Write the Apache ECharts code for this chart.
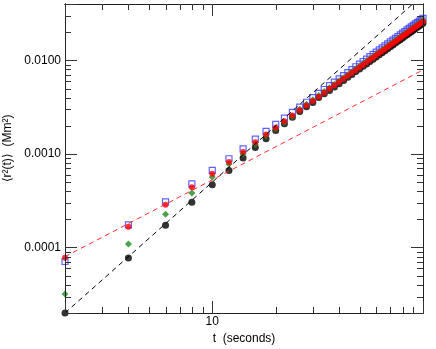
<!DOCTYPE html>
<html>
<head>
<meta charset="utf-8">
<script src="https://cdn.jsdelivr.net/npm/echarts@6/dist/echarts.min.js"></script>
<style>
  html, body { margin: 0; padding: 0; background: #fff; }
  #wrap { position: relative; width: 436px; height: 349px; }
  #main, #ticks { position: absolute; left: 0; top: 0; width: 436px; height: 349px; }
  #ticks { pointer-events: none; }
</style>
</head>
<body>
<div id="wrap">
  <div id="main"></div>
  <div id="ticks"></div>
</div>
<script>
// time (seconds)
var tValues = [2, 4, 6, 8, 10, 12, 14, 16, 18, 20, 22, 24, 26, 28, 30, 32, 34, 36, 38, 40,
  42, 44, 46, 48, 50, 52, 54, 56, 58, 60, 62, 64, 66, 68, 70, 72, 74, 76, 78, 80,
  82, 84, 86, 88, 90, 92, 94, 96, 98, 100];

// <r^2(t)> in Mm^2
var blackVals = [2.0e-5, 7.76e-5, 1.73e-4, 3.05e-4, 4.70e-4, 6.67e-4, 9.04e-4, 1.17e-3, 1.45e-3, 1.78e-3,
  2.10e-3, 2.47e-3, 2.85e-3, 3.20e-3, 3.54e-3, 4.00e-3, 4.39e-3, 4.76e-3, 5.19e-3, 5.64e-3,
  6.11e-3, 6.58e-3, 7.08e-3, 7.58e-3, 8.10e-3, 8.63e-3, 9.17e-3, 9.73e-3, 1.030e-2, 1.088e-2,
  1.147e-2, 1.208e-2, 1.270e-2, 1.332e-2, 1.397e-2, 1.462e-2, 1.528e-2, 1.596e-2, 1.665e-2, 1.735e-2,
  1.806e-2, 1.877e-2, 1.950e-2, 2.024e-2, 2.100e-2, 2.174e-2, 2.252e-2, 2.330e-2, 2.410e-2, 2.489e-2];

var greenVals = [3.2e-5, 1.09e-4, 2.27e-4, 3.83e-4, 5.68e-4, 7.80e-4, 9.98e-4, 1.27e-3, 1.57e-3, 1.86e-3,
  2.17e-3, 2.50e-3, 3.00e-3, 3.39e-3, 3.79e-3, 4.20e-3, 4.64e-3, 5.09e-3, 5.55e-3, 6.04e-3,
  6.53e-3, 7.04e-3, 7.57e-3, 8.11e-3, 8.67e-3, 9.23e-3, 9.81e-3, 1.041e-2, 1.102e-2, 1.164e-2,
  1.227e-2, 1.292e-2, 1.359e-2, 1.426e-2, 1.494e-2, 1.564e-2, 1.635e-2, 1.708e-2, 1.781e-2, 1.855e-2,
  1.931e-2, 2.008e-2, 2.086e-2, 2.165e-2, 2.246e-2, 2.327e-2, 2.409e-2, 2.493e-2, 2.577e-2, 2.663e-2];

var redVals = [7.8e-5, 1.67e-4, 2.87e-4, 4.40e-4, 6.15e-4, 8.20e-4, 1.048e-3, 1.33e-3, 1.61e-3, 1.91e-3,
  2.23e-3, 2.57e-3, 2.93e-3, 3.30e-3, 3.69e-3, 4.09e-3, 4.52e-3, 4.96e-3, 5.41e-3, 5.88e-3,
  6.36e-3, 6.86e-3, 7.37e-3, 7.90e-3, 8.44e-3, 8.99e-3, 9.56e-3, 1.014e-2, 1.073e-2, 1.133e-2,
  1.195e-2, 1.258e-2, 1.323e-2, 1.388e-2, 1.455e-2, 1.523e-2, 1.592e-2, 1.663e-2, 1.734e-2, 1.807e-2,
  1.881e-2, 1.955e-2, 2.031e-2, 2.108e-2, 2.187e-2, 2.265e-2, 2.346e-2, 2.427e-2, 2.510e-2, 2.593e-2];

var blueVals = [7.1e-5, 1.75e-4, 3.07e-4, 4.78e-4, 6.67e-4, 8.89e-4, 1.136e-3, 1.44e-3, 1.74e-3, 2.07e-3,
  2.41e-3, 2.78e-3, 3.16e-3, 3.57e-3, 3.99e-3, 4.43e-3, 4.88e-3, 5.36e-3, 5.85e-3, 6.35e-3,
  6.88e-3, 7.41e-3, 7.97e-3, 8.54e-3, 9.12e-3, 9.72e-3, 1.033e-2, 1.096e-2, 1.160e-2, 1.225e-2,
  1.292e-2, 1.360e-2, 1.430e-2, 1.501e-2, 1.573e-2, 1.646e-2, 1.721e-2, 1.798e-2, 1.875e-2, 1.953e-2,
  2.033e-2, 2.114e-2, 2.196e-2, 2.279e-2, 2.364e-2, 2.449e-2, 2.536e-2, 2.624e-2, 2.713e-2, 2.803e-2];

// dashed reference lines (end points, kept inside the axis ranges)
var blackFitT = [2, 89.4];
var blackFit = [2.0e-5, 4.0e-2];
var redFitT = [2, 100];
var redFit = [8.0e-5, 7.9e-3];

// minor tick positions
var xMinorTicks = [3, 4, 5, 6, 7, 8, 9, 20, 30, 40, 50, 60, 70, 80, 90];
var yMinorTicks = [3e-5, 4e-5, 5e-5, 6e-5, 7e-5, 8e-5, 9e-5,
  2e-4, 3e-4, 4e-4, 5e-4, 6e-4, 7e-4, 8e-4, 9e-4,
  2e-3, 3e-3, 4e-3, 5e-3, 6e-3, 7e-3, 8e-3, 9e-3,
  2e-2, 3e-2, 4e-2];

function pairs(xs, ys) {
  return xs.map(function (x, i) { return [x, ys[i]]; });
}

var FONT = 'Liberation Sans, Arial, sans-serif';
var TICK = '#333';
var minorLen = 6;
var GRID = { left: 65, right: 13, top: 4, bottom: 36, outerBoundsMode: 'none' };

function mkAxis(pos, isX) {
  var a = {
    type: 'log', logBase: 10, position: pos,
    axisLine: { show: true, lineStyle: { color: '#222', width: 1 } },
    axisTick: { show: true, inside: true, length: 12, lineStyle: { color: TICK, width: 1 } },
    splitLine: { show: false },
    axisLabel: { show: false }
  };
  if (isX) { a.min = 2; a.max = 100; } else { a.min = 2e-5; a.max = 0.04; }
  return a;
}

// one custom series per side, each item is a single short line
function tickSeries(side) {
  var isX = side === 'bottom' || side === 'top';
  return {
    type: 'custom', z: 5,
    renderItem: function (params, api) {
      var r = params.coordSys;
      var p;
      if (isX) {
        var x = Math.round(api.coord([api.value(0), 1e-3])[0]) + 0.5;
        var y0 = side === 'bottom' ? r.y + r.height : r.y;
        var y1 = side === 'bottom' ? y0 - minorLen : y0 + minorLen;
        p = { x1: x, y1: y0, x2: x, y2: y1 };
      } else {
        var y = Math.round(api.coord([10, api.value(1)])[1]) + 0.5;
        var x0 = side === 'left' ? r.x : r.x + r.width;
        var x1 = side === 'left' ? x0 + minorLen : x0 - minorLen;
        p = { x1: x0, y1: y, x2: x1, y2: y };
      }
      return { type: 'line', shape: p, style: { stroke: TICK, lineWidth: 1 } };
    },
    data: isX
      ? xMinorTicks.map(function (v) { return [v, 1e-3]; })
      : yMinorTicks.map(function (v) { return [10, v]; })
  };
}

// ---- main chart: data, labels, titles ----
var xBottom = mkAxis('bottom', true);
xBottom.axisLabel = {
  show: true, color: '#000', fontFamily: FONT, fontSize: 12, margin: 3,
  showMinLabel: false, showMaxLabel: false,
  formatter: function (v) { return String(Math.round(v)); }
};
xBottom.name = 't  (seconds)';
xBottom.nameLocation = 'middle';
xBottom.nameGap = 19;
xBottom.nameTextStyle = { color: '#000', fontFamily: FONT, fontSize: 12 };

var yLeft = mkAxis('left', false);
yLeft.axisLabel = {
  show: true, color: '#000', fontFamily: FONT, fontSize: 12, margin: 4,
  showMinLabel: false, showMaxLabel: false,
  formatter: function (v) { return v.toFixed(4); }
};
yLeft.name = '⟨r²(t)⟩  (Mm²)';
yLeft.nameLocation = 'middle';
yLeft.nameGap = 43;
yLeft.nameTextStyle = { color: '#000', fontFamily: FONT, fontSize: 12, padding: [0, 0, 0, 20] };

var chart = echarts.init(document.getElementById('main'));
chart.setOption({
  animation: false,
  grid: GRID,
  xAxis: [xBottom, mkAxis('top', true)],
  yAxis: [yLeft, mkAxis('right', false)],
  series: [{
    name: 'slope 2', type: 'line', data: pairs(blackFitT, blackFit), showSymbol: false, clip: false,
    lineStyle: { color: '#000', width: 1, type: [5, 4] }
  }, {
    name: 'red fit', type: 'line', data: pairs(redFitT, redFit), showSymbol: false, clip: false,
    lineStyle: { color: '#ff2a2a', width: 1, type: [5, 4] }
  }, {
    name: 'black', type: 'scatter', data: pairs(tValues, blackVals),
    symbol: 'circle', symbolSize: 7, itemStyle: { color: '#000' }
  }, {
    name: 'blue', type: 'scatter', data: pairs(tValues, blueVals),
    symbol: 'rect', symbolSize: 6,
    itemStyle: { color: 'rgba(0,0,0,0)', borderColor: '#3a3aff', borderWidth: 1.2 }
  }, {
    name: 'green', type: 'scatter', data: pairs(tValues, greenVals),
    symbol: 'diamond', symbolSize: 7, itemStyle: { color: '#1f8a1f' }
  }, {
    name: 'red', type: 'scatter', data: pairs(tValues, redVals),
    symbol: 'circle', symbolSize: 6, itemStyle: { color: '#ff0000' }
  }]
});

// ---- overlay chart on the same grid: frame ticks only ----
var tickChart = echarts.init(document.getElementById('ticks'));
tickChart.setOption({
  animation: false,
  backgroundColor: 'transparent',
  grid: GRID,
  xAxis: [mkAxis('bottom', true), mkAxis('top', true)],
  yAxis: [mkAxis('left', false), mkAxis('right', false)],
  series: [tickSeries('bottom'), tickSeries('top'), tickSeries('left'), tickSeries('right')]
});
</script>
</body>
</html>
